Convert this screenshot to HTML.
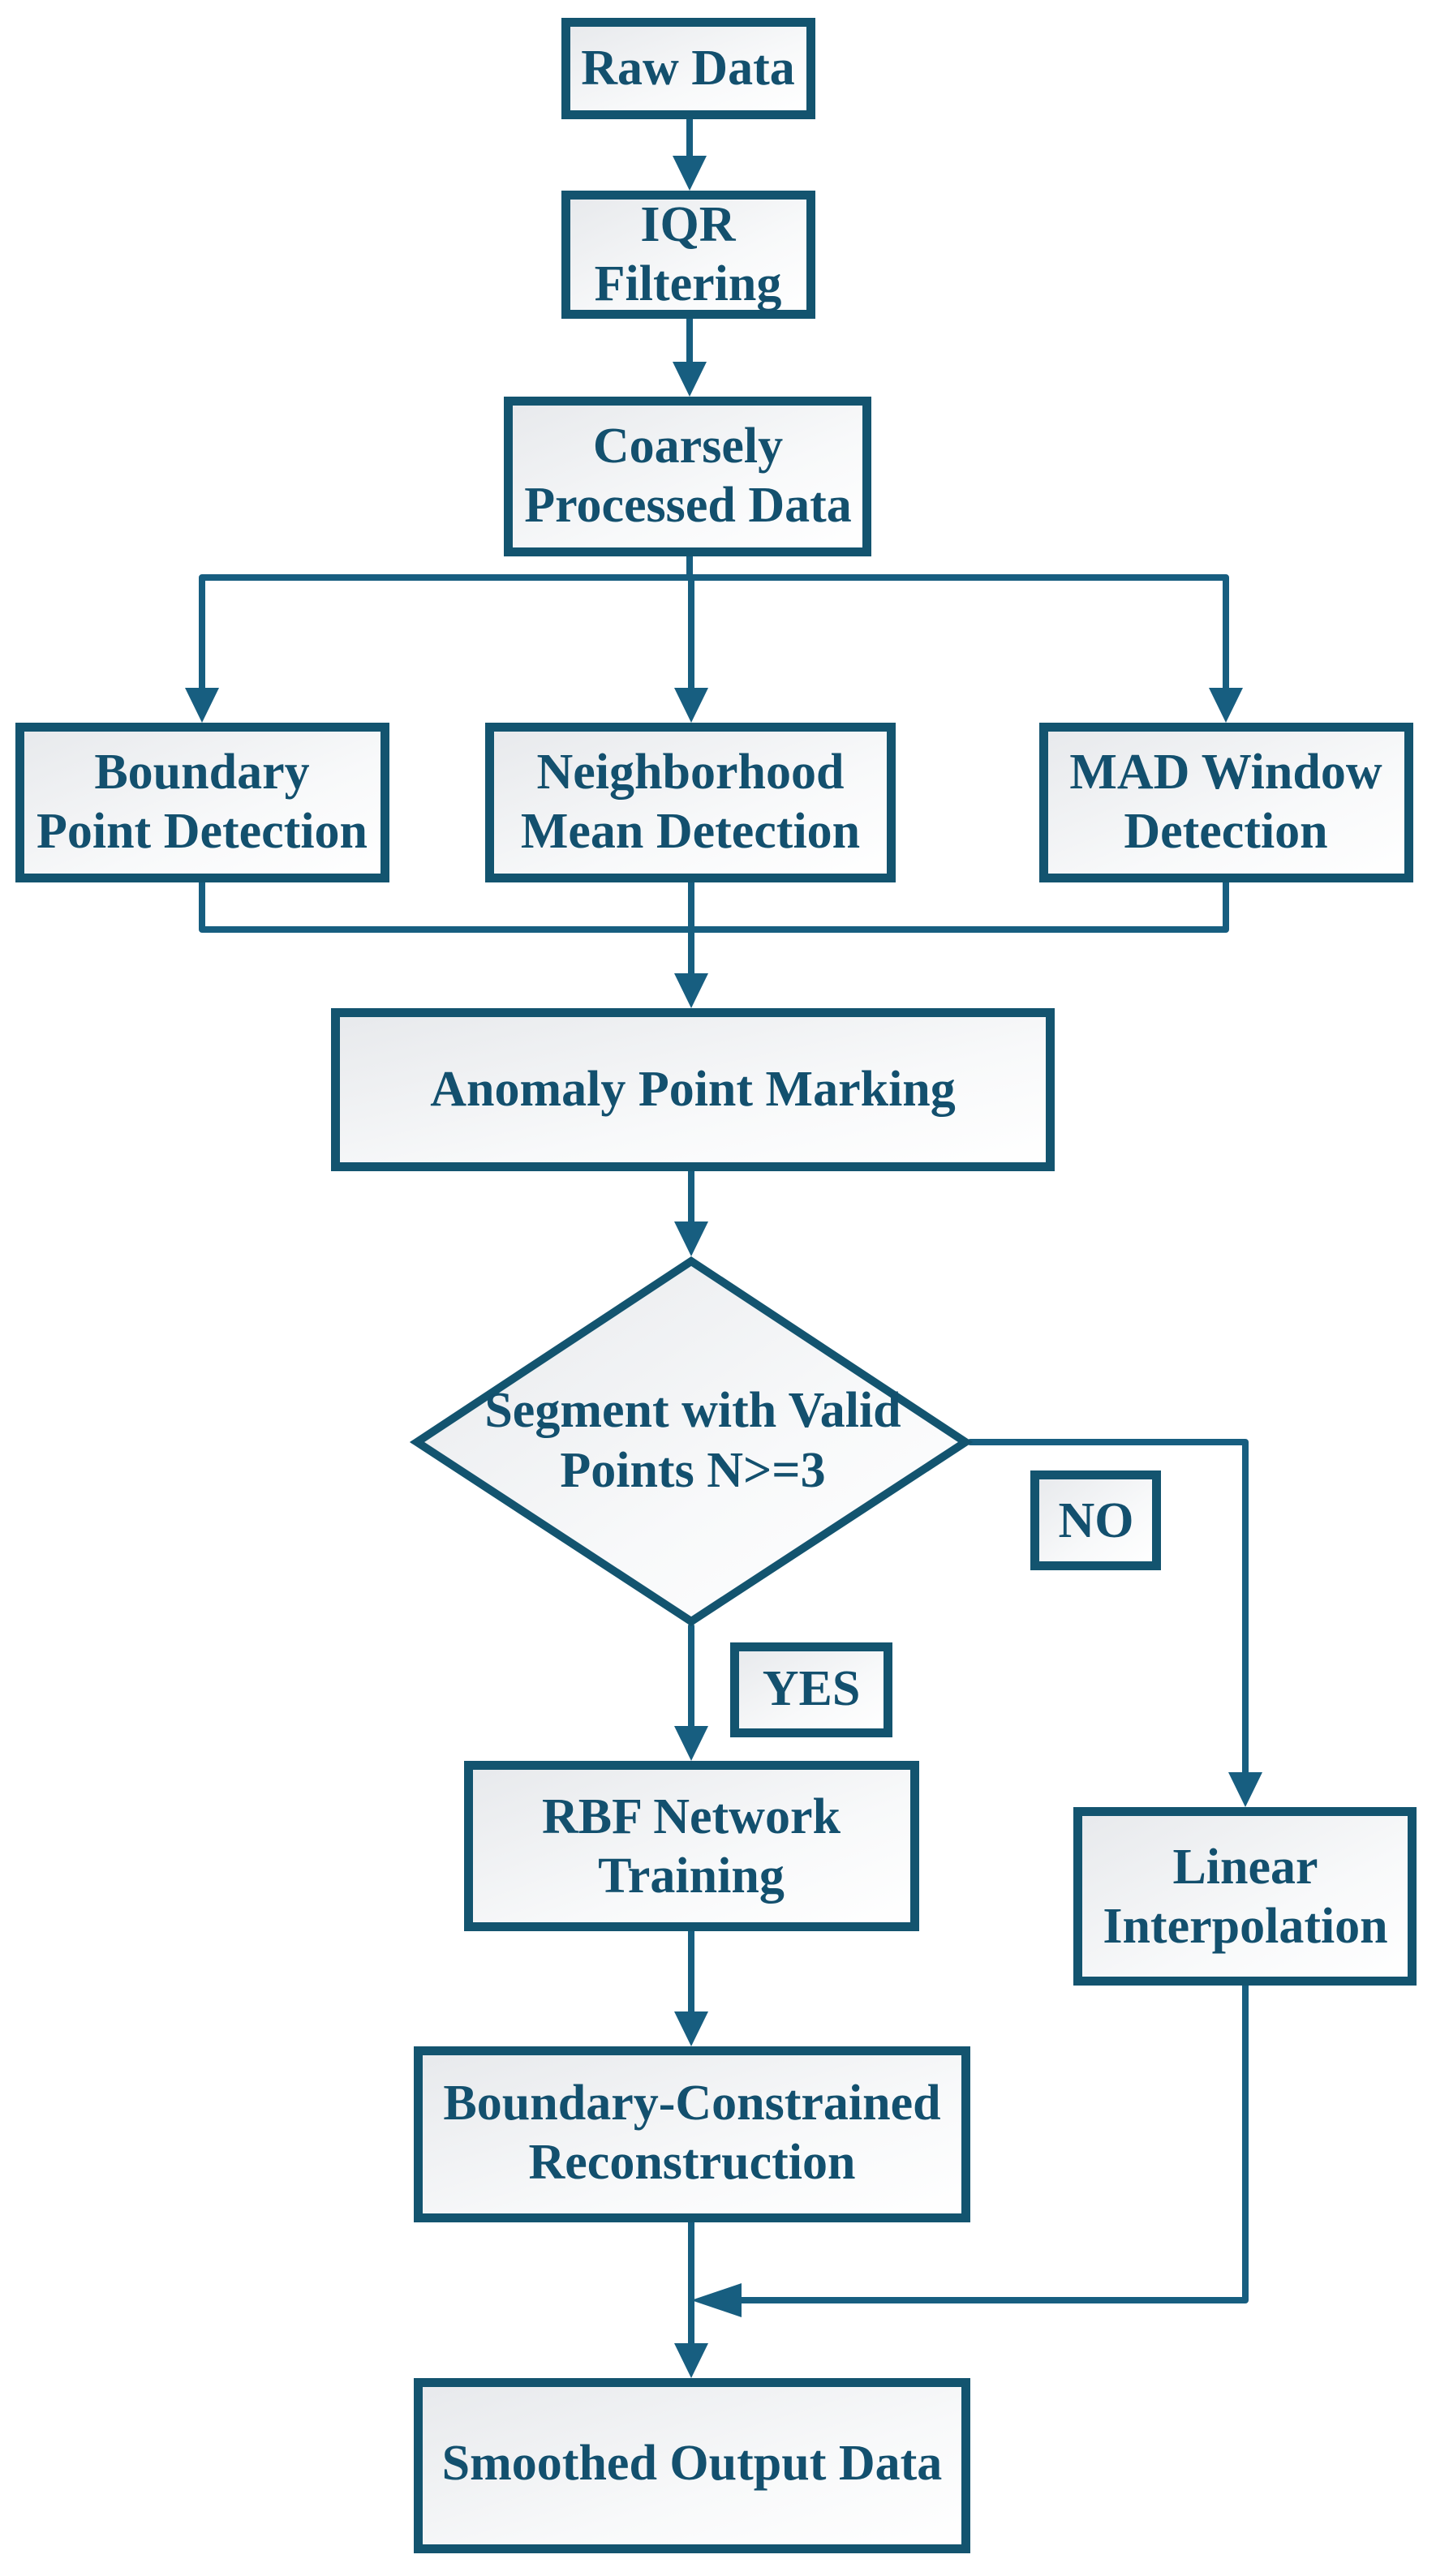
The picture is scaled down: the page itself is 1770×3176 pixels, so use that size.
<!DOCTYPE html>
<html><head><meta charset="utf-8"><style>html,body{margin:0;padding:0;background:#fff}svg{display:block}</style></head>
<body>
<svg width="1770" height="3176" viewBox="0 0 1770 3176" xmlns="http://www.w3.org/2000/svg">
<defs>
<linearGradient id="g" x1="0" y1="0" x2="1" y2="1">
<stop offset="0" stop-color="#e7e9ec"/><stop offset="0.6" stop-color="#f8f9fa"/><stop offset="1" stop-color="#ffffff"/>
</linearGradient>
</defs>
<g fill="none" stroke="#175e80" stroke-width="8" stroke-linejoin="round" stroke-linecap="round">
<line x1="850" y1="147" x2="850" y2="200"/>
<line x1="850" y1="393" x2="850" y2="450"/>
<line x1="850" y1="686" x2="850" y2="712"/>
<polyline points="249,850 249,712 1511,712 1511,850"/>
<line x1="852" y1="712" x2="852" y2="850"/>
<polyline points="249,1088 249,1146 1511,1146 1511,1088"/>
<line x1="852" y1="1088" x2="852" y2="1205"/>
<line x1="852" y1="1444" x2="852" y2="1510"/>
<polyline points="1196,1778 1535,1778 1535,2190"/>
<line x1="852" y1="2005" x2="852" y2="2132"/>
<line x1="852" y1="2381" x2="852" y2="2485"/>
<line x1="852" y1="2740" x2="852" y2="2895"/>
<polyline points="1535,2448 1535,2836 900,2836"/>
</g>
<g fill="#175e80">
<polygon points="829,192 871,192 850,235"/>
<polygon points="829,446 871,446 850,489"/>
<polygon points="228,848 270,848 249,891"/>
<polygon points="831,848 873,848 852,891"/>
<polygon points="1490,848 1532,848 1511,891"/>
<polygon points="831,1200 873,1200 852,1243"/>
<polygon points="831,1506 873,1506 852,1549"/>
<polygon points="1514,2185 1556,2185 1535,2228"/>
<polygon points="831,2128 873,2128 852,2171"/>
<polygon points="831,2480 873,2480 852,2523"/>
<polygon points="831,2889 873,2889 852,2932"/>
<polygon points="852,2836 914,2815 914,2857"/>
</g>
<g fill="url(#g)" stroke="#13546f" stroke-width="11">
<rect x="697.5" y="27.5" width="302" height="114"/>
<rect x="697.5" y="240.5" width="302" height="147"/>
<rect x="626.5" y="494.5" width="442" height="186"/>
<rect x="24.5" y="896.5" width="450" height="186"/>
<rect x="603.5" y="896.5" width="495" height="186"/>
<rect x="1286.5" y="896.5" width="450" height="186"/>
<rect x="413.5" y="1248.5" width="881" height="190"/>
<polygon points="852,1555 1190,1778 852,1999 514,1778" stroke-width="10"/>
<rect x="1275.5" y="1818.5" width="150" height="112"/>
<rect x="905.5" y="2030.5" width="189" height="106"/>
<rect x="577.5" y="2176.5" width="550" height="199"/>
<rect x="1328.5" y="2233.5" width="412" height="209"/>
<rect x="515.5" y="2528.5" width="675" height="206"/>
<rect x="515.5" y="2937.5" width="675" height="205"/>
</g>
<g fill="#13506e" font-family="'Liberation Serif', serif" font-weight="bold" font-size="62" text-anchor="middle">
<text x="848" y="104">Raw Data</text>
<text x="848" y="297">IQR</text>
<text x="848" y="370">Filtering</text>
<text x="848" y="570">Coarsely</text>
<text x="848" y="643">Processed Data</text>
<text x="249" y="972">Boundary</text>
<text x="249" y="1045">Point Detection</text>
<text x="851" y="972">Neighborhood</text>
<text x="851" y="1045">Mean Detection</text>
<text x="1511" y="972">MAD Window</text>
<text x="1511" y="1045">Detection</text>
<text x="854" y="1363">Anomaly Point Marking</text>
<text x="854" y="1759">Segment with Valid</text>
<text x="854" y="1833">Points N&gt;=3</text>
<text x="1351" y="1895">NO</text>
<text x="1000" y="2102">YES</text>
<text x="852" y="2260">RBF Network</text>
<text x="852" y="2333">Training</text>
<text x="1535" y="2322">Linear</text>
<text x="1535" y="2395">Interpolation</text>
<text x="853" y="2613">Boundary-Constrained</text>
<text x="853" y="2686">Reconstruction</text>
<text x="853" y="3057">Smoothed Output Data</text>
</g>
</svg>
</body></html>
